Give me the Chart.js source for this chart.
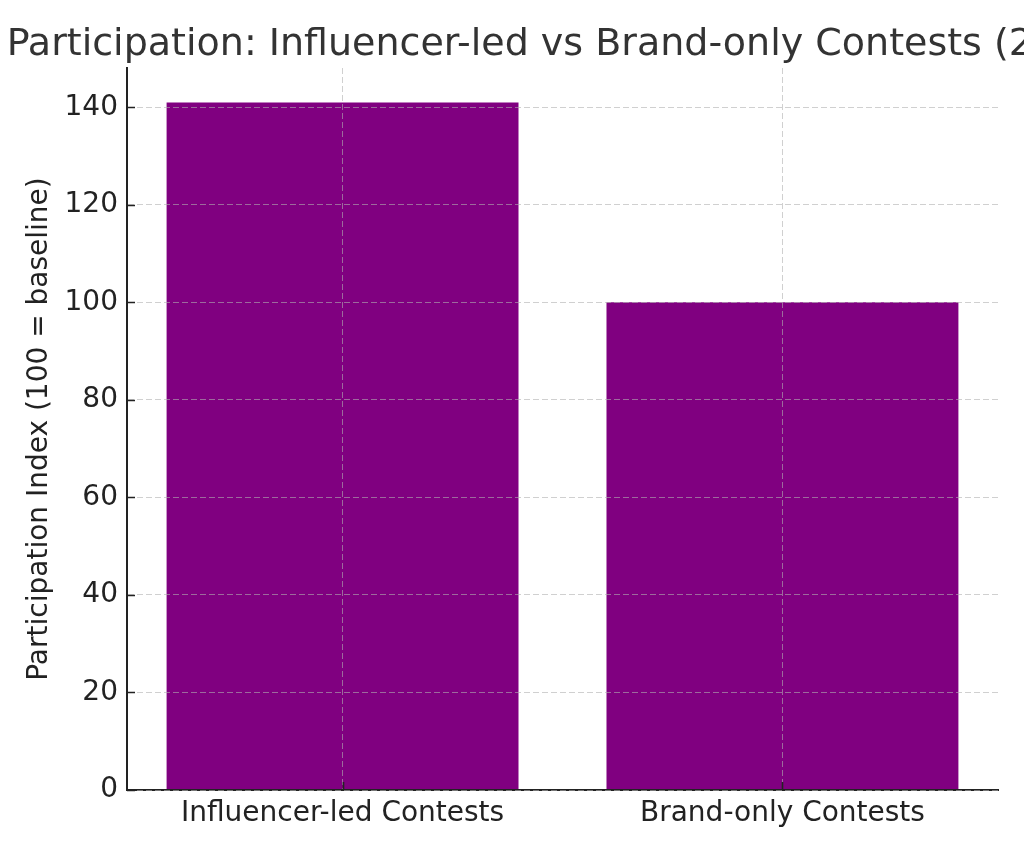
<!DOCTYPE html>
<html>
<head>
<meta charset="utf-8">
<script src="https://cdn.jsdelivr.net/npm/chart.js@4"></script>
<style>
  html, body { margin: 0; padding: 0; background: #ffffff; }
  #wrap { width: 1024px; height: 853px; }
</style>
</head>
<body>
<div id="wrap"><canvas id="c" width="1024" height="853"></canvas></div>
<script>
const chartTitle = "Participation: Influencer-led vs Brand-only Contests (2024)";
const categories = ["Influencer-led Contests", "Brand-only Contests"];
const participationIndex = [141, 100];
const yTickValues = [0, 20, 40, 60, 80, 100, 120, 140];
const yAxisLabel = "Participation Index (100 = baseline)";

const FONT = "'DejaVu Sans', 'Liberation Sans', sans-serif";

const titlePlugin = {
  id: 'overflowTitle',
  afterDraw(chart) {
    const ctx = chart.ctx;
    const a = chart.chartArea;
    ctx.save();
    ctx.font = "38px " + FONT;
    ctx.fillStyle = "#333333";
    ctx.textAlign = "center";
    ctx.textBaseline = "alphabetic";
    ctx.fillText(chartTitle, (a.left + a.right) / 2 + 1, 55);
    ctx.restore();
  }
};

const innerTicksPlugin = {
  id: 'innerTicks',
  afterDraw(chart) {
    const ctx = chart.ctx;
    const a = chart.chartArea;
    const ys = chart.scales.y, xs = chart.scales.x;
    ctx.save();
    ctx.strokeStyle = "#222222";
    ctx.lineWidth = 1.6;
    ctx.beginPath();
    ys.ticks.forEach(t => {
      const p = Math.round(ys.getPixelForValue(t.value)) + 0.5;
      ctx.moveTo(a.left, p);
      ctx.lineTo(a.left + 8, p);
    });
    xs.ticks.forEach(t => {
      const p = Math.round(xs.getPixelForValue(t.value)) + 0.5;
      ctx.moveTo(p, a.bottom);
      ctx.lineTo(p, a.bottom - 8);
    });
    ctx.stroke();
    ctx.restore();
  }
};

new Chart(document.getElementById('c'), {
  type: 'bar',
  data: {
    labels: categories,
    datasets: [{
      data: participationIndex.map((v, i) => ({ x: i, y: v })),
      backgroundColor: '#800080',
      borderWidth: 0,
      categoryPercentage: 1.0,
      barPercentage: 0.8
    }]
  },
  options: {
    responsive: false,
    animation: false,
    devicePixelRatio: 1,
    layout: { padding: { top: 68, right: 26, bottom: 0, left: 0 } },
    plugins: {
      legend: { display: false },
      title: { display: false },
      tooltip: { enabled: false }
    },
    scales: {
      x: {
        type: 'linear',
        min: -0.49,
        max: 1.49,
        offset: false,
        afterBuildTicks(scale) {
          scale.ticks = categories.map((c, i) => ({ value: i }));
        },
        afterFit(scale) { scale.height = 63; },
        ticks: {
          callback: (v) => categories[v],
          font: { family: FONT, size: 28 },
          color: '#222222',
          padding: 7,
          maxRotation: 0,
          autoSkip: false
        },
        grid: {
          z: 1,
          offset: false,
          color: 'rgba(176,176,176,0.6)',
          lineWidth: 1,
          drawTicks: false
        },
        border: {
          display: true,
          z: 1,
          color: '#222222',
          width: 2,
          dash: [6, 3]
        }
      },
      y: {
        min: 0,
        max: 148.05,
        afterBuildTicks(scale) {
          scale.ticks = yTickValues.map(v => ({ value: v }));
        },
        afterFit(scale) { scale.width = 127; },
        ticks: {
          font: { family: FONT, size: 28 },
          color: '#222222',
          padding: 9
        },
        grid: {
          z: 1,
          color: 'rgba(176,176,176,0.6)',
          lineWidth: 1,
          drawTicks: false
        },
        border: {
          display: true,
          z: 1,
          color: '#222222',
          width: 2,
          dash: [6, 3]
        },
        title: {
          display: true,
          text: yAxisLabel,
          font: { family: FONT, size: 28, lineHeight: 1.0 },
          color: '#222222',
          padding: { top: 26, bottom: 0 }
        }
      }
    }
  },
  plugins: [titlePlugin, innerTicksPlugin]
});
</script>
</body>
</html>
